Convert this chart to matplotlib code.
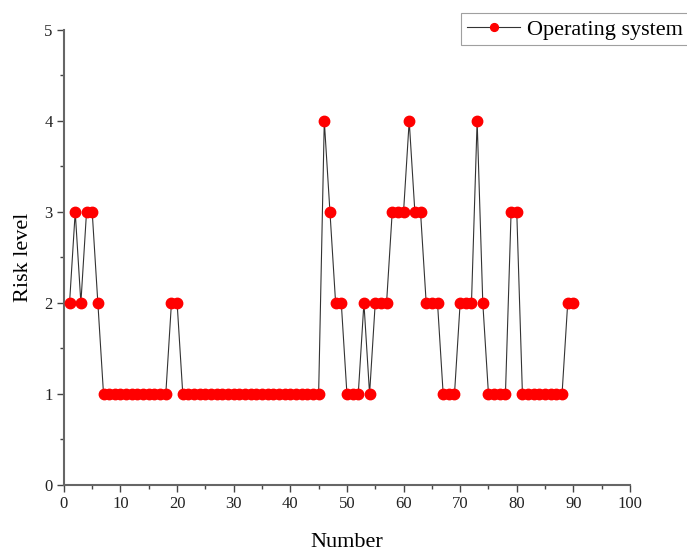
import matplotlib
matplotlib.use("Agg")
import matplotlib.pyplot as plt
from matplotlib.ticker import MultipleLocator

plt.rcParams['font.family'] = ['Liberation Serif', 'DejaVu Serif']

numbers = list(range(1, 91))
risk = ([2, 3, 2, 3, 3, 2] + [1] * 12 + [2, 2] + [1] * 25 +
        [4, 3, 2, 2, 1, 1, 1, 2, 1, 2, 2, 2, 3, 3, 3, 4, 3, 3, 2, 2, 2,
         1, 1, 1, 2, 2, 2, 4, 2, 1, 1, 1, 1, 3, 3] + [1] * 8 + [2, 2])

fig = plt.figure(figsize=(6.87, 5.53), dpi=100)
ax = fig.add_axes([0.093, 0.123, 0.824, 0.823])
ax.plot(numbers, risk, color='#333333', linewidth=0.8, marker='o',
        markersize=7.5, markerfacecolor='red', markeredgecolor='red',
        label='Operating system', zorder=3)

ax.set_xlim(0, 100)
ax.set_ylim(0, 5)
ax.xaxis.set_major_locator(MultipleLocator(10))
ax.xaxis.set_minor_locator(MultipleLocator(5))
ax.yaxis.set_major_locator(MultipleLocator(1))
ax.yaxis.set_minor_locator(MultipleLocator(0.5))
ax.spines['top'].set_visible(False)
ax.spines['right'].set_visible(False)
for s in ('left', 'bottom'):
    ax.spines[s].set_color('#666666')
    ax.spines[s].set_linewidth(1.5)
ax.tick_params(which='major', direction='out', length=5, width=1.0,
               colors='#444444', labelsize=12, labelcolor='#222222', pad=3)
ax.tick_params(which='minor', direction='out', length=3, width=1.0,
               colors='#444444')
ax.set_xlabel('Number', fontsize=16, labelpad=15)
ax.set_ylabel('Risk level', fontsize=16, labelpad=8)

leg = ax.legend(loc='upper right', bbox_to_anchor=(1.103, 1.036), fontsize=16,
                frameon=True, fancybox=False, edgecolor='#888888',
                handlelength=2.4, handletextpad=0.3, borderpad=0.25,
                borderaxespad=0.0, markerscale=0.75)
leg.get_frame().set_linewidth(0.8)

fig.savefig('out.png', dpi=100)
